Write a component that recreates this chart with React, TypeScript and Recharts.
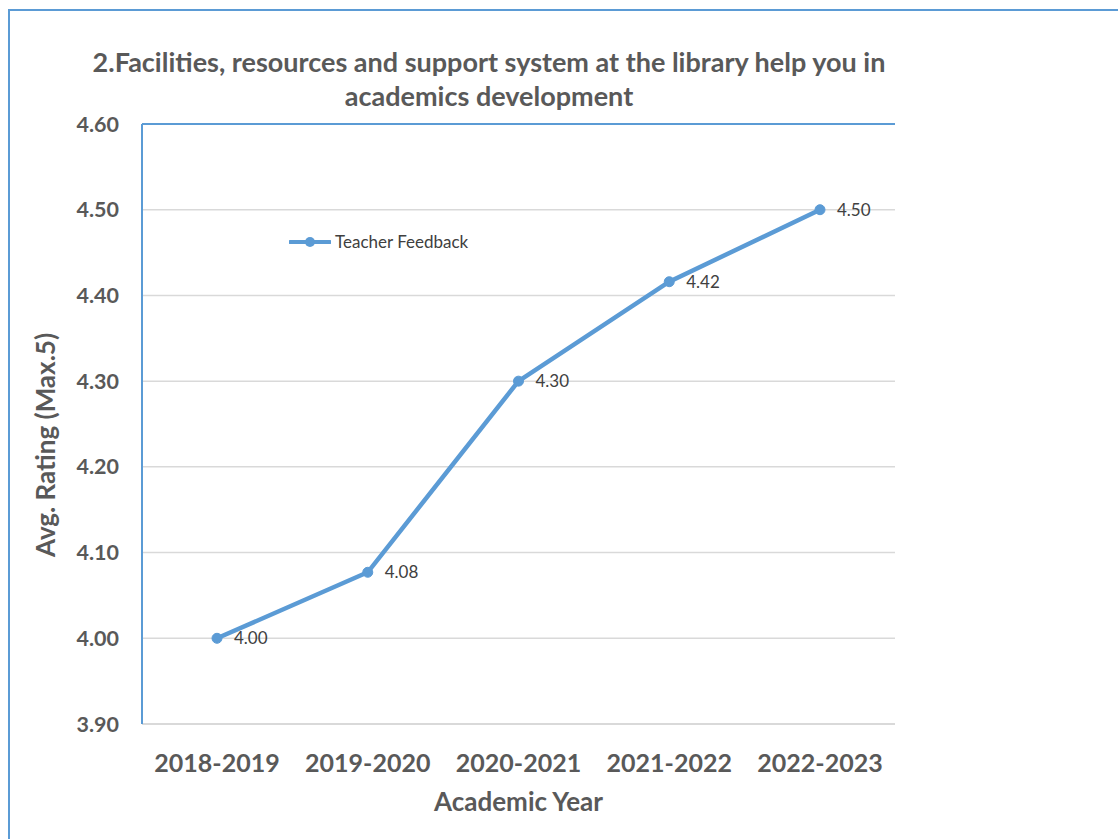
import React from 'react';
import {
  LineChart,
  Line,
  XAxis,
  YAxis,
  CartesianGrid,
  ReferenceLine,
  LabelList,
  Legend,
} from 'recharts';

const years = ['2018-2019', '2019-2020', '2020-2021', '2021-2022', '2022-2023'];
const teacherFeedback = [4.0, 4.077, 4.3, 4.416, 4.5];
const yTicks = [3.9, 4.0, 4.1, 4.2, 4.3, 4.4, 4.5, 4.6];

const BLUE = '#5B9BD5';
const GREY_TEXT = '#595959';
const FONT = 'Lato, "Open Sans", sans-serif';

const data = years.map((year, i) => ({ year, value: teacherFeedback[i] }));

function LegendContent() {
  return (
    <div style={{ display: 'flex', alignItems: 'center', fontFamily: FONT, fontSize: 17, color: '#404040' }}>
      <svg width={42} height={12}>
        <line x1={1} y1={6} x2={41} y2={6} stroke={BLUE} strokeWidth={4} strokeLinecap="round" />
        <circle cx={21} cy={6} r={5} fill={BLUE} />
      </svg>
      <span style={{ marginLeft: 4 }}>Teacher Feedback</span>
    </div>
  );
}

export default function App() {
  return (
    <div style={{ position: 'absolute', left: 0, top: 0, width: 1118, height: 839, overflow: 'hidden', background: '#fff' }}>
      {/* outer frame */}
      <div
        style={{
          position: 'absolute',
          left: 8,
          top: 9,
          width: 1200,
          height: 900,
          borderLeft: `2px solid ${BLUE}`,
          borderTop: `2px solid ${BLUE}`,
        }}
      />

      <div
        style={{
          position: 'absolute',
          left: 39,
          top: 45,
          width: 900,
          textAlign: 'center',
          fontFamily: FONT,
          fontWeight: 700,
          fontSize: 27,
          lineHeight: '34px',
          color: GREY_TEXT,
        }}
      >
        2.Facilities, resources and support system at the library help you in
        <br />
        academics development
      </div>

      <div
        style={{
          position: 'absolute',
          left: 45,
          top: 445,
          transform: 'translate(-50%, -50%) rotate(-90deg)',
          whiteSpace: 'nowrap',
          fontFamily: FONT,
          fontWeight: 700,
          fontSize: 26,
          color: GREY_TEXT,
        }}
      >
        Avg. Rating (Max.5)
      </div>

      <div style={{ position: 'absolute', left: 0, top: 0 }}>
        <LineChart
          width={1000}
          height={839}
          data={data}
          margin={{ top: 124, right: 105, bottom: 0, left: 82 }}
        >
          <CartesianGrid horizontal vertical={false} stroke="#D9D9D9" strokeWidth={1.5} />
          <XAxis
            dataKey="year"
            padding={{ left: 75, right: 75 }}
            height={94}
            tickSize={0}
            tickMargin={30}
            axisLine={{ stroke: '#D9D9D9', strokeWidth: 2 }}
            tick={{ fill: GREY_TEXT, fontFamily: FONT, fontWeight: 700, fontSize: 25 }}
            label={{
              value: 'Academic Year',
              position: 'insideBottom',
              offset: 7,
              fill: GREY_TEXT,
              fontFamily: FONT,
              fontWeight: 700,
              fontSize: 26,
            }}
          />
          <YAxis
            domain={[3.9, 4.6]}
            ticks={yTicks}
            width={60}
            tickSize={0}
            tickMargin={23}
            axisLine={{ stroke: BLUE, strokeWidth: 2 }}
            tickFormatter={(v: number) => v.toFixed(2)}
            tick={{ fill: GREY_TEXT, fontFamily: FONT, fontWeight: 700, fontSize: 21.5 }}
          />
          <YAxis
            yAxisId="right"
            orientation="right"
            domain={[3.9, 4.6]}
            width={0}
            tick={false}
            tickLine={false}
            axisLine={{ stroke: BLUE, strokeWidth: 2 }}
          />
          <ReferenceLine y={4.6} stroke={BLUE} strokeWidth={2} />
          <Legend
            content={<LegendContent />}
            wrapperStyle={{ position: 'absolute', left: 289, top: 231, width: 'auto' }}
          />
          <Line
            dataKey="value"
            name="Teacher Feedback"
            stroke={BLUE}
            strokeWidth={4.5}
            dot={{ r: 5, fill: BLUE, stroke: BLUE, strokeWidth: 1 }}
            isAnimationActive={false}
          >
            <LabelList
              dataKey="value"
              position="right"
              offset={17}
              formatter={(v: number) => v.toFixed(2)}
              style={{ fill: '#404040', fontFamily: FONT, fontSize: 17 }}
            />
          </Line>
        </LineChart>
      </div>
    </div>
  );
}
